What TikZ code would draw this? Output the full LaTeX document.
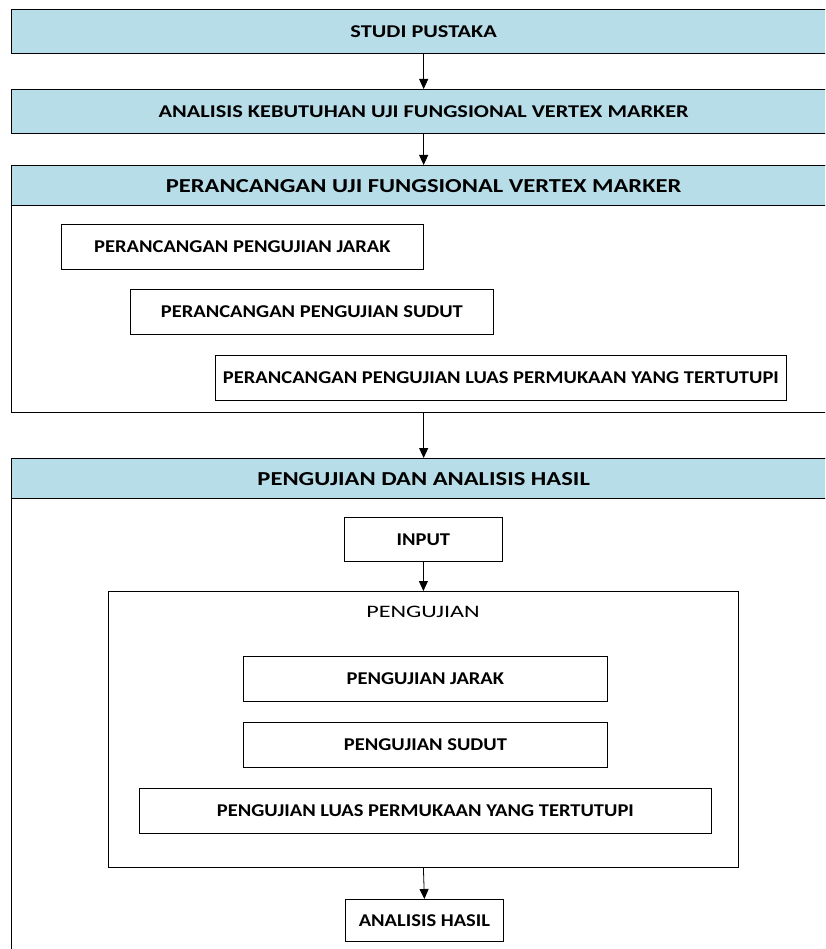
\documentclass[tikz,border=0pt]{standalone}
\usepackage{fontspec}
\setmainfont{Carlito}
\newfontfamily\headfont[FakeStretch=1.24]{Carlito}
\newfontfamily\stepfont[FakeStretch=1.14]{Carlito}
\newfontfamily\labelfont[FakeStretch=1.38]{Carlito}
\usetikzlibrary{arrows.meta}
\definecolor{headblue}{HTML}{B7DDE8}
\tikzset{
  headbox/.style={draw,line width=1.3pt,fill=headblue,anchor=north west,
    minimum width=824pt,minimum height=44pt,inner sep=0pt,
    font=\headfont\bfseries\fontsize{18}{21}\selectfont},
  bighead/.style={headbox,minimum height=40pt,
    font=\headfont\bfseries\fontsize{19.8}{23}\selectfont},
  outerbox/.style={draw,line width=1.3pt,anchor=north west,
    minimum width=824pt,inner sep=0pt},
  stepbox/.style={draw,line width=0.8pt,anchor=north west,
    minimum height=45pt,inner sep=0pt,
    font=\stepfont\bfseries\fontsize{18}{21}\selectfont},
  arr/.style={line width=0.8pt,-{Triangle[length=10pt,width=9pt]}}
}
\begin{document}
\begin{tikzpicture}[x=1pt,y=-1pt]
  \useasboundingbox (0,0) rectangle (825,949);
  \clip (0,0) rectangle (825,949);
  % tahap awal
  \node[headbox] (studi) at (11,9) {STUDI PUSTAKA};
  \node[headbox] (analisis) at (11,89) {ANALISIS KEBUTUHAN UJI FUNGSIONAL VERTEX MARKER};
  % perancangan
  \node[outerbox,minimum height=247pt] (rancangbox) at (11,165) {};
  \node[bighead] (rancang) at (11,165) {PERANCANGAN UJI FUNGSIONAL VERTEX MARKER};
  \node[stepbox,minimum width=362pt] (rjarak) at (61,224) {PERANCANGAN PENGUJIAN JARAK};
  \node[stepbox,minimum width=363pt] (rsudut) at (130,289) {PERANCANGAN PENGUJIAN SUDUT};
  \node[stepbox,minimum width=571pt] (rluas) at (215,355) {PERANCANGAN PENGUJIAN LUAS PERMUKAAN YANG TERTUTUPI};
  % pengujian dan analisis
  \node[outerbox,minimum height=520pt] (ujibox) at (11,458) {};
  \node[bighead] (uji) at (11,458) {PENGUJIAN DAN ANALISIS HASIL};
  \node[stepbox,minimum width=158pt,minimum height=44pt] (input) at (344,517) {INPUT};
  \node[draw,line width=0.8pt,anchor=north west,minimum width=630pt,
    minimum height=276pt] (pengujianbox) at (108,591) {};
  \node[anchor=base,inner sep=0pt,font=\labelfont\fontsize{17.5}{20}\selectfont]
    (pengujian) at (423,617) {PENGUJIAN};
  \node[stepbox,minimum width=364pt] (ujarak) at (243,656) {PENGUJIAN JARAK};
  \node[stepbox,minimum width=364pt] (usudut) at (243,722) {PENGUJIAN SUDUT};
  \node[stepbox,minimum width=572pt] (uluas) at (139,788) {PENGUJIAN LUAS PERMUKAAN YANG TERTUTUPI};
  \node[stepbox,minimum width=158pt,minimum height=42pt] (hasil) at (345,899) {ANALISIS HASIL};
  % panah
  \draw[arr] (studi.south) -- (analisis.north);
  \draw[arr] (analisis.south) -- (rancang.north);
  \draw[arr] (rancangbox.south) -- (uji.north);
  \draw[arr] (input.south) -- (pengujianbox.north);
  \draw[arr] (pengujianbox.south) -- (hasil.north);
\end{tikzpicture}
\end{document}
